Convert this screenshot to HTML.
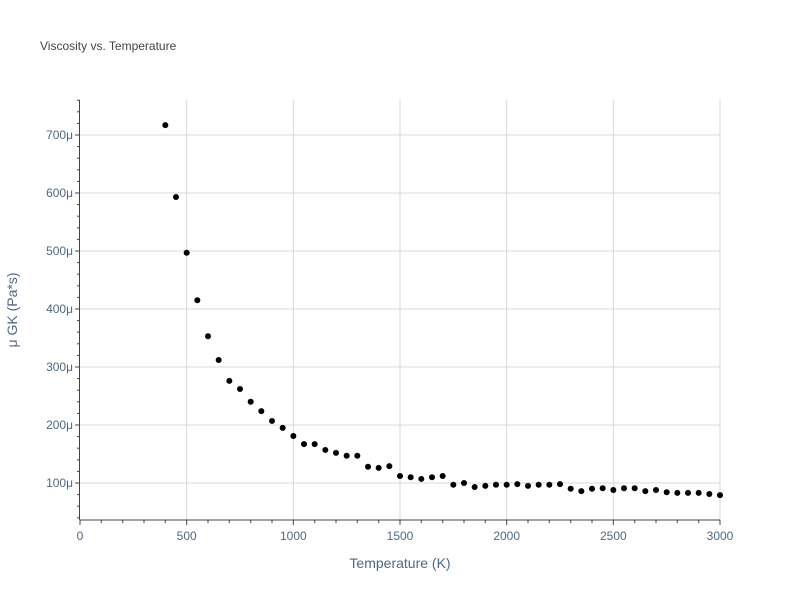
<!DOCTYPE html>
<html><head><meta charset="utf-8"><style>
body{margin:0;background:#fff;font-family:"Liberation Sans",sans-serif;}
</style></head><body>
<svg id="chart" width="800" height="600" xmlns="http://www.w3.org/2000/svg" style="font-family:'Liberation Sans',sans-serif">
<rect width="800" height="600" fill="#fff"/>
<text x="40" y="50" font-size="12" fill="#444">Viscosity vs. Temperature</text>
<g id="grid"></g><g id="axes"></g><g id="points"></g>
<text x="400" y="568" font-size="14" fill="#506784" text-anchor="middle">Temperature (K)</text>
<text transform="translate(17,310) rotate(-90)" font-size="14" fill="#506784" text-anchor="middle">μ GK (Pa*s)</text>
</svg>
<script>
const temps=[400,450,500,550,600,650,700,750,800,850,900,950,1000,1050,1100,1150,1200,1250,1300,1350,1400,1450,1500,1550,1600,1650,1700,1750,1800,1850,1900,1950,2000,2050,2100,2150,2200,2250,2300,2350,2400,2450,2500,2550,2600,2650,2700,2750,2800,2850,2900,2950,3000];
const visc=[717,593,497,415,353,312,276,262,240,224,207,195,181,167,167,157,152,147,147,128,126,129,112,110,107,110,112,97,100,93,95,97,97,98,95,97,97,98,90,86,90,91,88,91,91,86,88,84,83,83,83,81,79];
const xTicks=[0,500,1000,1500,2000,2500,3000];
const yTicks=[100,200,300,400,500,600,700];
const NS="http://www.w3.org/2000/svg";
const x=v=>80+v*640/3000;
const y=v=>483-(v-100)*0.58;
function mk(tag,attrs,parent,txt){const e=document.createElementNS(NS,tag);for(const k in attrs)e.setAttribute(k,attrs[k]);if(txt!==undefined)e.textContent=txt;parent.appendChild(e);return e;}
const grid=document.getElementById('grid'),axes=document.getElementById('axes'),pts=document.getElementById('points');
xTicks.forEach(t=>{
  if(t>0){const g=mk('line',{x1:x(t),x2:x(t),y1:100,y2:520,stroke:'#d9d9d9'},grid);
  
  }
  const l=mk('text',{x:x(t),y:540,'font-size':12,fill:'#506784','text-anchor':'middle'},axes,String(t));
  
  
});
yTicks.forEach(t=>{
  const g=mk('line',{x1:80,x2:720,y1:y(t),y2:y(t),stroke:'#d9d9d9'},grid);
  
  
  const l=mk('text',{x:73,y:y(t)+4,'font-size':12,fill:'#506784','text-anchor':'end'},axes,t+'μ');
  
  
});
for(let t=0;t<=3000;t+=100){const tk=mk('line',{x1:x(t),x2:x(t),y1:520,y2:t%500===0?525:523,stroke:'#444'},axes);

}
for(let t=40;t<=760;t+=20){const tk=mk('line',{x1:t%100===0?75:77,x2:80,y1:y(t),y2:y(t),stroke:'#444'},axes);

}
const xa=mk('line',{x1:79.5,x2:720,y1:520,y2:520,stroke:'#444'},axes);


const ya=mk('line',{x1:79.5,x2:79.5,y1:100,y2:520,stroke:'#444'},axes);


temps.forEach((t,i)=>{
  const c=mk('circle',{cx:x(t),cy:y(visc[i]),r:3,fill:'#000'},pts);
  
  
});
</script>
</body></html>
